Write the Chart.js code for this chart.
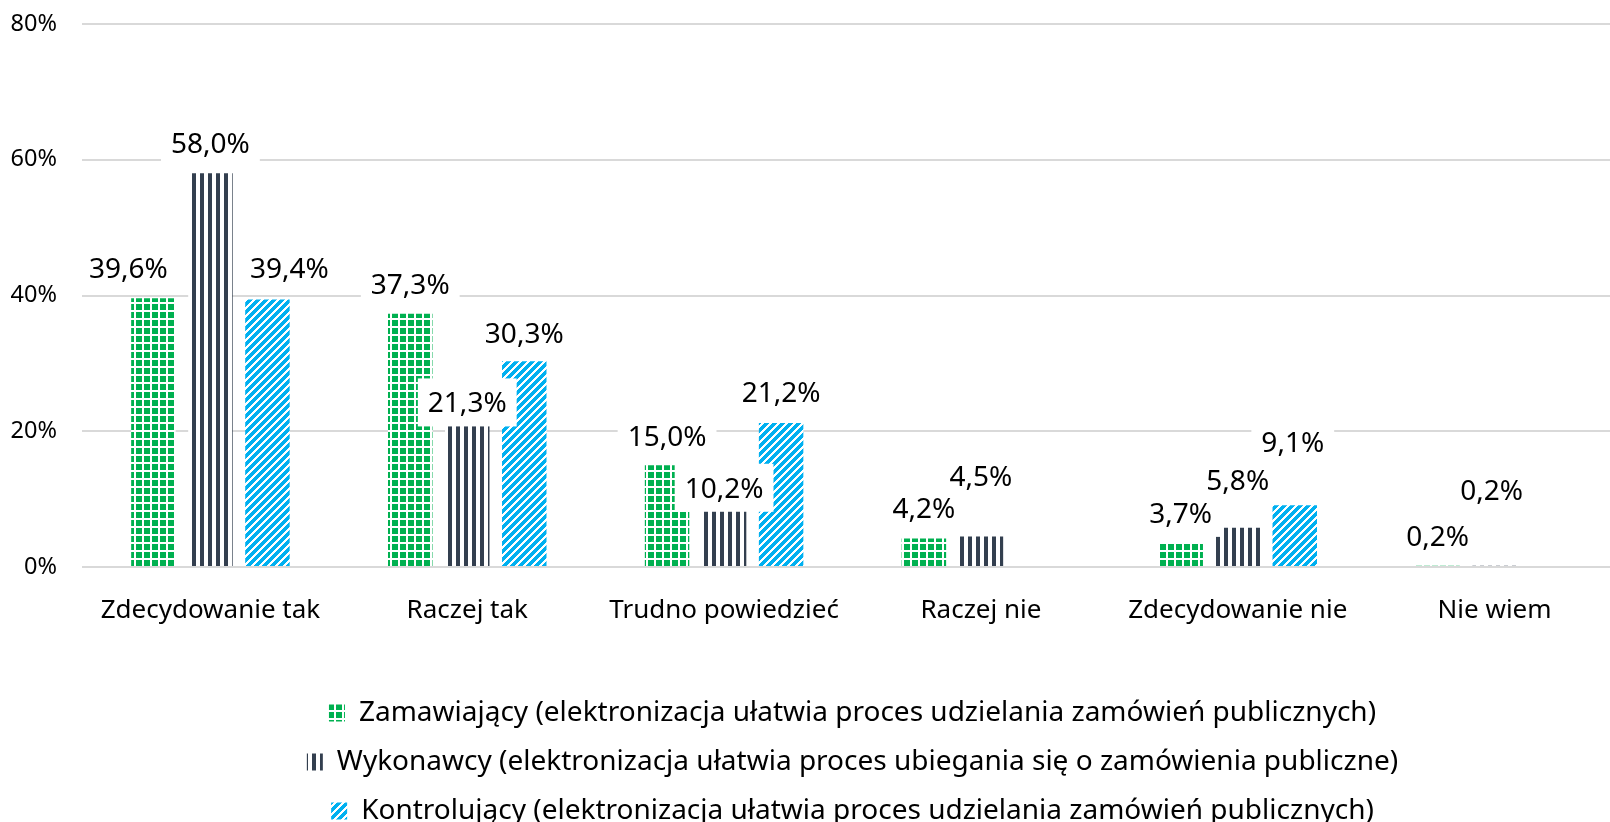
<!DOCTYPE html>
<html>
<head>
<meta charset="utf-8">
<script src="https://cdn.jsdelivr.net/npm/chart.js@4.4.1/dist/chart.umd.min.js"></script>
<style>
  html, body { margin: 0; padding: 0; background: #fff; overflow: hidden; }
  /* wykres w oryginale jest ucięty z prawej strony */
  #wrap { width: 1610px; height: 822px; overflow: hidden; }
</style>
</head>
<body>
<div id="wrap"><canvas id="chart" width="1623" height="822"></canvas></div>
<script>
const categories = ['Zdecydowanie tak', 'Raczej tak', 'Trudno powiedzieć', 'Raczej nie', 'Zdecydowanie nie', 'Nie wiem'];
const zamawiajacy = [39.6, 37.3, 15.0, 4.2, 3.7, 0.2];
const wykonawcy = [58.0, 21.3, 10.2, 4.5, 5.8, 0.2];
const kontrolujacy = [39.4, 30.3, 21.2, null, 9.1, null];
const seriesNames = [
    'Zamawiający (elektronizacja ułatwia proces udzielania zamówień publicznych)',
    'Wykonawcy (elektronizacja ułatwia proces ubiegania się o zamówienia publiczne)',
    'Kontrolujący (elektronizacja ułatwia proces udzielania zamówień publicznych)'
];
const yTicks = [0, 20, 40, 60, 80];

const FONT = "'Noto Sans', sans-serif";

// wzory wypełnienia jak w Excelu (kafelek 8x8)
function makePattern(color, isInk) {
    const c = document.createElement('canvas');
    c.width = 8;
    c.height = 8;
    const g = c.getContext('2d');
    g.fillStyle = '#ffffff';
    g.fillRect(0, 0, 8, 8);
    g.fillStyle = color;
    for (let y = 0; y < 8; y++) {
        for (let x = 0; x < 8; x++) {
            if (isInk(x, y)) g.fillRect(x, y, 1, 1);
        }
    }
    return g.createPattern(c, 'repeat');
}

const ctx = document.getElementById('chart').getContext('2d');
const greenGrid = makePattern('#00b050', (x, y) => x < 6 && y < 6);
const navyStripes = makePattern('#333f4f', (x, y) => x < 4);
const blueDiagonal = makePattern('#00b0f0', (x, y) => (x + y) % 8 >= 3);

function fmt(v) {
    return v.toFixed(1).replace('.', ',') + '%';
}

// etykiety danych na białym tle, przesunięte ręcznie jak w oryginale
const labelBoxes = {
    id: 'labelBoxes',
    afterDatasetsDraw(chart, args, opts) {
        const c = chart.ctx;
        c.save();
        c.font = opts.size + 'px ' + FONT;
        const items = [];
        chart.data.datasets.forEach((ds, i) => {
            const meta = chart.getDatasetMeta(i);
            meta.data.forEach((bar, j) => {
                const v = ds.data[j];
                if (v == null) return;
                const n = opts.nudges[i][j] || [0, 0];
                const text = fmt(v);
                items.push({
                    text: text,
                    x: bar.x + n[0],
                    y: bar.y - opts.lift + n[1],
                    w: c.measureText(text).width
                });
            });
        });
        c.fillStyle = '#ffffff';
        items.forEach(it => {
            c.fillRect(it.x - it.w / 2 - opts.padX, it.y - opts.boxH / 2, it.w + 2 * opts.padX, opts.boxH);
        });
        c.fillStyle = '#000000';
        c.textAlign = 'center';
        c.textBaseline = 'alphabetic';
        items.forEach(it => {
            c.fillText(it.text, it.x, it.y + opts.size * 0.357);
        });
        c.restore();
    }
};

new Chart(ctx, {
    type: 'bar',
    data: {
        labels: categories,
        datasets: [
            { label: seriesNames[0], data: zamawiajacy, backgroundColor: greenGrid },
            { label: seriesNames[1], data: wykonawcy, backgroundColor: navyStripes },
            { label: seriesNames[2], data: kontrolujacy, backgroundColor: blueDiagonal }
        ]
    },
    options: {
        responsive: false,
        devicePixelRatio: 1,
        animation: false,
        layout: {
            padding: { top: 24, right: 0, bottom: -13, left: 0 }
        },
        datasets: {
            bar: {
                borderWidth: 0,
                categoryPercentage: 0.666,
                barPercentage: 0.78
            }
        },
        scales: {
            x: {
                grid: { display: false },
                border: { display: false },
                ticks: {
                    color: '#000',
                    padding: 20,
                    font: { family: FONT, size: 26 }
                },
                afterFit(scale) { scale.height = 111; }
            },
            y: {
                min: 0,
                max: 80,
                afterBuildTicks(scale) {
                    scale.ticks = yTicks.map(v => ({ value: v }));
                },
                grid: { color: '#d9d9d9', lineWidth: 2, drawTicks: false },
                border: { display: false },
                ticks: {
                    color: '#000',
                    padding: 25,
                    font: { family: FONT, size: 23.5 },
                    callback: v => v + '%'
                },
                afterFit(scale) {
                    scale.width = 82;
                    // bez tego odstęp etykiet wlicza się do marginesu u góry
                    scale.paddingTop = 14;
                    scale.paddingBottom = 14;
                }
            }
        },
        plugins: {
            legend: {
                position: 'bottom',
                fullSize: false,
                labels: {
                    boxWidth: 16,
                    boxHeight: 17,
                    padding: 21,
                    color: '#000',
                    font: { family: FONT, size: 28 }
                }
            },
            tooltip: { enabled: false },
            labelBoxes: {
                size: 28,
                lift: 30,
                padX: 10,
                boxH: 48,
                nudges: [
                    [[-25, 0], [0, 0], [0, 1], [0, 0], [0, 1], [0, 0]],
                    [[0, 0], [0, 10], [0, 20], [0, -30], [0, -18], [-3, -46]],
                    [[22, -2], [0, 2], [0, -1], null, [-2, -33], null]
                ]
            }
        }
    },
    plugins: [labelBoxes]
});
</script>
</body>
</html>
